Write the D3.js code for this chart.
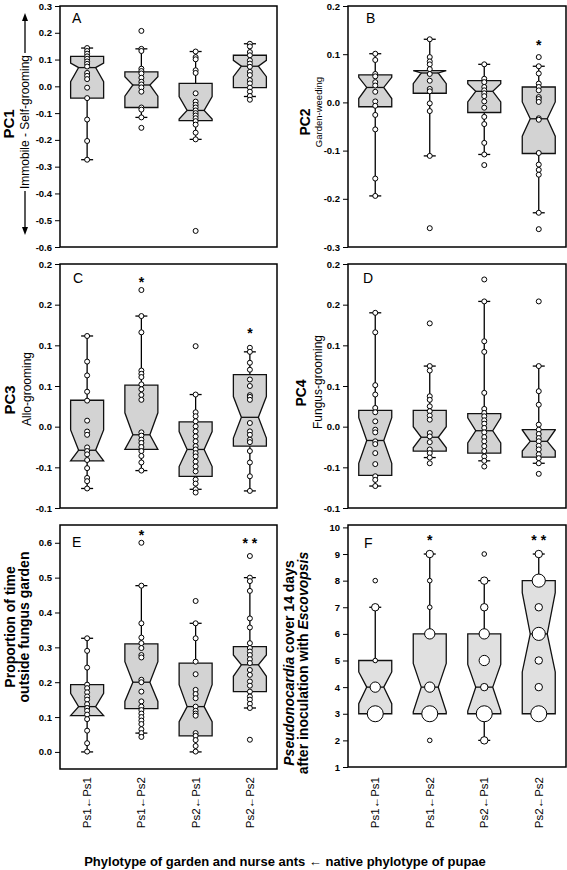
<!DOCTYPE html>
<html><head><meta charset="utf-8">
<script src="https://cdn.jsdelivr.net/npm/d3@7"></script>
<style>
body{margin:0;background:#fff}
svg{display:block}
text{font-family:"Liberation Sans",Arial,Helvetica,sans-serif;fill:#000}
</style>
</head><body>
<svg id="chart" width="567" height="870"></svg>
<script>
// ---------------- DATA ----------------
const categories = ["Ps1\u2190Ps1", "Ps1\u2190Ps2", "Ps2\u2190Ps1", "Ps2\u2190Ps2"];

// Box statistics per group: [q1, median, q3, notchLow, notchHigh, whiskerLow, whiskerHigh]
// Panel A: PC1
const pc1Points = [
  [0.143,0.132,0.122,0.112,0.103,0.093,0.084,0.074,0.05,0.039,0.027,-0.005,-0.044,-0.124,-0.204,-0.274],
  [0.207,0.14,0.132,0.066,0.057,0.048,0.032,0.017,0.007,-0.004,-0.02,-0.079,-0.087,-0.116,-0.155],
  [0.13,0.109,0.101,0.06,0.05,-0.026,-0.057,-0.069,-0.079,-0.09,-0.1,-0.109,-0.119,-0.13,-0.143,-0.173,-0.198,-0.54],
  [0.159,0.149,0.128,0.116,0.097,0.085,0.073,0.054,0.042,0.023,0.011,-0.005,-0.02,-0.036,-0.05]
];
const pc1Box = [
  [-0.044,0.07,0.112,0.017,0.087,-0.274,0.143],
  [-0.079,0.005,0.054,-0.037,0.036,-0.116,0.14],
  [-0.128,-0.09,0.011,-0.122,-0.038,-0.198,0.13],
  [-0.005,0.075,0.116,0.036,0.097,-0.038,0.159]
];
const pc1Ticks = [-0.6,-0.5,-0.4,-0.3,-0.2,-0.1,0,0.1,0.2,0.3];
const pc1TickLabels = ["-0.6","-0.5","-0.4","-0.3","-0.2","-0.1","0.0","0.1","0.2","0.3"];
const pc1Stars = ["","","",""];
const pc1StarAt = [null,null,null,null];

// Panel B: PC2
const pc2Points = [
  [0.101,0.088,0.059,0.054,0.042,0.035,0.022,0.002,-0.007,-0.026,-0.056,-0.158,-0.194],
  [0.131,0.094,0.085,0.079,0.069,0.059,0.045,0.028,0.023,-0.002,-0.018,-0.111,-0.261],
  [0.079,0.049,0.042,0.032,0.025,0.019,0.013,0.002,-0.011,-0.03,-0.045,-0.084,-0.108,-0.13],
  [0.094,0.075,0.06,0.039,0.032,0.025,0.011,0.007,0.001,-0.033,-0.036,-0.105,-0.129,-0.14,-0.15,-0.229,-0.263]
];
const pc2Box = [
  [-0.009,0.031,0.057,0.008,0.052,-0.194,0.101],
  [0.019,0.061,0.066,0.039,0.066,-0.111,0.131],
  [-0.021,0.023,0.045,0.001,0.039,-0.108,0.079],
  [-0.106,-0.034,0.032,-0.07,0.001,-0.229,0.075]
];
const pc2Ticks = [-0.3,-0.2,-0.1,0,0.1,0.2];
const pc2TickLabels = ["-0.3","-0.2","-0.1","0.0","0.1","0.2"];
const pc2Stars = ["","","","*"];
const pc2StarAt = [null,null,null,0.127];

// Panel C: PC3
const pc3Points = [
  [0.1115,0.08,0.063,0.043,0.032,0.0074,-0.006,-0.01,-0.0255,-0.03,-0.034,-0.041,-0.051,-0.063,-0.067,-0.076],
  [0.168,0.136,0.116,0.069,0.065,0.061,0.052,0.046,0.039,0.033,-0.007,-0.011,-0.016,-0.02,-0.025,-0.03,-0.036,-0.044,-0.054],
  [0.099,0.0395,0.0177,0.0128,0.0066,0.0004,-0.0058,-0.012,-0.018,-0.024,-0.028,-0.0325,-0.0366,-0.043,-0.049,-0.055,-0.065,-0.07,-0.077,-0.081],
  [0.097,0.092,0.0786,0.07,0.058,0.05,0.0387,0.0366,0.033,0.0045,-0.0058,-0.01,-0.016,-0.019,-0.03,-0.044,-0.061,-0.079]
];
const pc3Box = [
  [-0.042,-0.029,0.0325,-0.042,-0.004,-0.076,0.1115],
  [-0.028,-0.01,0.051,-0.028,0.017,-0.054,0.136],
  [-0.061,-0.028,0.0058,-0.049,-0.006,-0.077,0.0395],
  [-0.024,0.0115,0.064,-0.014,0.037,-0.079,0.092]
];
const pc3Ticks = [-0.1,-0.05,0,0.05,0.1,0.15,0.2];
const pc3TickLabels = ["-0.1","-0.1","0.0","0.1","0.1","0.2","0.2"];
const pc3Stars = ["","*","","*"];
const pc3StarAt = [null,0.183,null,0.12];

// Panel D: PC4
const pc4Points = [
  [0.14,0.116,0.051,0.0395,0.023,0.0177,0.0066,-0.0037,-0.007,-0.018,-0.0214,-0.0325,-0.046,-0.061,-0.0654,-0.073],
  [0.127,0.0745,0.069,0.0374,0.033,0.025,0.019,0.0136,0.0086,-0.0078,-0.012,-0.019,-0.028,-0.0325,-0.038,-0.045],
  [0.181,0.154,0.105,0.092,0.0416,0.0218,0.0169,0.0128,0.0078,0.0037,-0.0016,-0.007,-0.0128,-0.018,-0.024,-0.03,-0.0366,-0.042,-0.049],
  [0.154,0.0745,0.0436,0.027,0.0025,-0.0037,-0.009,-0.014,-0.018,-0.0235,-0.028,-0.034,-0.0387,-0.045,-0.058]
];
const pc4Box = [
  [-0.06,-0.017,0.02,-0.045,0.011,-0.073,0.14],
  [-0.03,-0.013,0.02,-0.026,0.0,-0.038,0.0745],
  [-0.0325,-0.005,0.016,-0.02,0.011,-0.042,0.154],
  [-0.0375,-0.018,-0.0037,-0.03,-0.004,-0.045,0.0745]
];
const pc4Ticks = pc3Ticks;
const pc4TickLabels = pc3TickLabels;
const pc4Stars = ["","","",""];
const pc4StarAt = [null,null,null,null];

// Panel E: proportion of time outside fungus garden
const timePoints = [
  [0.326,0.29,0.242,0.193,0.183,0.171,0.159,0.15,0.137,0.126,0.118,0.107,0.094,0.061,0.025,0.001],
  [0.6,0.477,0.369,0.328,0.312,0.298,0.278,0.271,0.207,0.2,0.173,0.145,0.13,0.12,0.11,0.1,0.09,0.08,0.065,0.054,0.043],
  [0.433,0.369,0.326,0.259,0.223,0.178,0.166,0.154,0.13,0.118,0.11,0.104,0.054,0.046,0.034,0.017,0.001],
  [0.562,0.5,0.49,0.462,0.383,0.357,0.312,0.298,0.288,0.278,0.266,0.255,0.235,0.221,0.202,0.19,0.173,0.159,0.15,0.138,0.126,0.035]
];
const timeBox = [
  [0.104,0.13,0.193,0.104,0.168,0.0,0.326],
  [0.124,0.2,0.31,0.145,0.259,0.054,0.477],
  [0.046,0.13,0.255,0.087,0.193,0.0,0.369],
  [0.173,0.25,0.302,0.217,0.278,0.126,0.5]
];
const timeTicks = [0,0.1,0.2,0.3,0.4,0.5,0.6];
const timeTickLabels = ["0.0","0.1","0.2","0.3","0.4","0.5","0.6"];
const timeStars = ["","*","","* *"];
const timeStarAt = [null,0.632,null,0.61];

// Panel F: Pseudonocardia cover (value, number of colonies)
const coverPoints = [
  [[3,5],[4,3],[5,1],[7,2],[8,1]],
  [[2,1],[3,5],[4,3],[6,3],[7,1],[8,1],[9,2]],
  [[2,2],[3,5],[4,2],[5,3],[6,3],[7,2],[8,2],[9,1]],
  [[3,5],[4,2],[5,2],[6,4],[7,2],[8,4],[9,2]]
];
const coverBox = [
  [3,4,5,3.38,4.57,3,7],
  [3,4,6,3.07,4.89,3,9],
  [3,4,6,3.1,4.85,2,8],
  [3,6,8,4.57,7.55,3,9]
];
const coverTicks = [1,2,3,4,5,6,7,8,9,10];
const coverTickLabels = ["1","2","3","4","5","6","7","8","9","10"];
const coverStars = ["","*","","* *"];
const coverStarAt = [null,9.65,null,9.65];

// ---------------- DRAWING ----------------
const svg = d3.select("#chart");
const FONT = '"Liberation Sans",Arial,Helvetica,sans-serif';

function drawPanel(o) {
  const g = svg.append("g");
  const x = d3.scaleBand().domain(categories).range([o.x0, o.x1]);
  const y = d3.scaleLinear().domain(o.domain).range([o.y1, o.y0]);
  const hw = 16.5, iw = 8.5, cap = 6;
  const rScale = d3.scaleLinear().domain([1, 5]).range([2.3, 8]);

  categories.forEach((c, i) => {
    const cx = x(c) + x.bandwidth() / 2;
    const [q1, med, q3, nlo, nhi, wlo, whi] = o.box[i];
    if (whi > q3) {
      g.append("line").attr("x1", cx).attr("x2", cx).attr("y1", y(q3)).attr("y2", y(whi))
        .attr("stroke", "#000").attr("stroke-width", 1.3);
      g.append("line").attr("x1", cx - cap).attr("x2", cx + cap).attr("y1", y(whi)).attr("y2", y(whi))
        .attr("stroke", "#000").attr("stroke-width", 1.3);
    }
    if (wlo < q1) {
      g.append("line").attr("x1", cx).attr("x2", cx).attr("y1", y(q1)).attr("y2", y(wlo))
        .attr("stroke", "#000").attr("stroke-width", 1.3);
      g.append("line").attr("x1", cx - cap).attr("x2", cx + cap).attr("y1", y(wlo)).attr("y2", y(wlo))
        .attr("stroke", "#000").attr("stroke-width", 1.3);
    }
    const p = d3.path();
    p.moveTo(cx - hw, y(q3)); p.lineTo(cx + hw, y(q3));
    p.lineTo(cx + hw, y(nhi)); p.lineTo(cx + iw, y(med)); p.lineTo(cx + hw, y(nlo));
    p.lineTo(cx + hw, y(q1)); p.lineTo(cx - hw, y(q1));
    p.lineTo(cx - hw, y(nlo)); p.lineTo(cx - iw, y(med)); p.lineTo(cx - hw, y(nhi));
    p.closePath();
    g.append("path").attr("d", p.toString()).attr("fill", o.fill)
      .attr("stroke", "#111").attr("stroke-width", 1.3).attr("stroke-linejoin", "miter");
    g.append("line").attr("x1", cx - iw).attr("x2", cx + iw).attr("y1", y(med)).attr("y2", y(med))
      .attr("stroke", "#111").attr("stroke-width", 1.3);
    o.points[i].forEach(v => {
      const val = Array.isArray(v) ? v[0] : v;
      const r = Array.isArray(v) ? rScale(v[1]) : 2.5;
      g.append("circle").attr("cx", cx).attr("cy", y(val)).attr("r", r)
        .attr("fill", "#fff").attr("stroke", "#000").attr("stroke-width", 1);
    });
    if (o.stars[i]) {
      g.append("text").attr("x", cx).attr("y", y(o.starAt[i]))
        .attr("dy", "0.62em").attr("text-anchor", "middle")
        .style("font-size", "14px").style("font-weight", "bold").text(o.stars[i]);
    }
  });

  g.append("rect").attr("x", o.x0).attr("y", o.y0).attr("width", o.x1 - o.x0).attr("height", o.y1 - o.y0)
    .attr("fill", "none").attr("stroke", "#000").attr("stroke-width", 1.5);

  const ax = g.append("g").attr("transform", `translate(${o.x0},0)`)
    .call(d3.axisLeft(y).tickValues(o.ticks).tickFormat((d, i) => o.tickLabels[i]).tickSize(5).tickPadding(3));
  ax.select(".domain").remove();
  ax.selectAll(".tick line").attr("stroke", "#000").attr("stroke-width", 1);
  ax.selectAll(".tick text").style("font-family", FONT).style("font-size", "9.5px").style("font-weight", "bold").attr("fill", "#000");

  g.append("text").attr("x", o.x0 + o.letterDx).attr("y", o.y0 + o.letterDy)
    .style("font-size", "14px").text(o.letter);
  return { x, y, g };
}

const L = { x0: 60, x1: 277 }, R = { x0: 348, x1: 566 };

drawPanel({ ...L, y0: 6, y1: 247, domain: [-0.6, 0.3], ticks: pc1Ticks, tickLabels: pc1TickLabels,
  points: pc1Points, box: pc1Box, stars: pc1Stars, starAt: pc1StarAt, fill: "#d3d3d3", letter: "A", letterDx: 12, letterDy: 17 });
drawPanel({ ...R, y0: 6, y1: 247, domain: [-0.3, 0.2], ticks: pc2Ticks, tickLabels: pc2TickLabels,
  points: pc2Points, box: pc2Box, stars: pc2Stars, starAt: pc2StarAt, fill: "#d3d3d3", letter: "B", letterDx: 18, letterDy: 17 });
drawPanel({ ...L, y0: 264, y1: 508, domain: [-0.1, 0.2], ticks: pc3Ticks, tickLabels: pc3TickLabels,
  points: pc3Points, box: pc3Box, stars: pc3Stars, starAt: pc3StarAt, fill: "#d3d3d3", letter: "C", letterDx: 13, letterDy: 19 });
drawPanel({ ...R, y0: 264, y1: 508, domain: [-0.1, 0.2], ticks: pc4Ticks, tickLabels: pc4TickLabels,
  points: pc4Points, box: pc4Box, stars: pc4Stars, starAt: pc4StarAt, fill: "#d3d3d3", letter: "D", letterDx: 15, letterDy: 19 });
const pE = drawPanel({ ...L, y0: 525, y1: 769, domain: [-0.049, 0.651], ticks: timeTicks, tickLabels: timeTickLabels,
  points: timePoints, box: timeBox, stars: timeStars, starAt: timeStarAt, fill: "#d3d3d3", letter: "E", letterDx: 12, letterDy: 22 });
const pF = drawPanel({ ...R, y0: 525, y1: 767, domain: [1, 10.09], ticks: coverTicks, tickLabels: coverTickLabels,
  points: coverPoints, box: coverBox, stars: coverStars, starAt: coverStarAt, fill: "#e0e0e0", letter: "F", letterDx: 16, letterDy: 23 });

[pE, pF].forEach(p => {
  categories.forEach(c => {
    const cx = p.x(c) + p.x.bandwidth() / 2;
    svg.append("text").attr("transform", `translate(${cx},777) rotate(-90)`)
      .attr("text-anchor", "end").attr("dy", "0.35em").style("font-size", "11.5px").text(c);
  });
});

function vText(x, y, str, size, weight) {
  return svg.append("text").attr("transform", `translate(${x},${y}) rotate(-90)`)
    .attr("text-anchor", "middle").attr("dy", "0.35em")
    .style("font-size", size + "px").style("font-weight", weight || "normal").text(str);
}
vText(9, 124, "PC1", 15, "bold");
vText(305, 122, "PC2", 14, "bold");
vText(10, 400, "PC3", 15, "bold");
vText(301, 393, "PC4", 14, "bold");

const sub1 = vText(25, 122, "Immobile - Self-grooming", 12);
const len1 = sub1.node().getComputedTextLength();
const top1 = 122 - len1 / 2 - 2, bot1 = 122 + len1 / 2 + 2;
svg.append("line").attr("x1", 25).attr("x2", 25).attr("y1", 19).attr("y2", top1).attr("stroke", "#000").attr("stroke-width", 1.3);
svg.append("line").attr("x1", 25).attr("x2", 25).attr("y1", bot1).attr("y2", 229).attr("stroke", "#000").attr("stroke-width", 1.3);
svg.append("path").attr("d", "M25,13 L22,21 L28,21 Z").attr("fill", "#000");
svg.append("path").attr("d", "M25,235 L22,227 L28,227 Z").attr("fill", "#000");

vText(319, 112, "Garden-weeding", 9.5);
vText(27, 389, "Allo-grooming", 12);
vText(318, 382, "Fungus-grooming", 12);

vText(10, 627, "Proportion of time", 14, "bold");
vText(24, 627, "outside fungus garden", 14, "bold");

const f1 = svg.append("text").attr("transform", "translate(289,663) rotate(-90)")
  .attr("text-anchor", "middle").attr("dy", "0.35em").style("font-size", "14px").style("font-weight", "bold");
f1.append("tspan").style("font-style", "italic").text("Pseudonocardia");
f1.append("tspan").text(" cover 14 days");
const f2 = svg.append("text").attr("transform", "translate(303,663) rotate(-90)")
  .attr("text-anchor", "middle").attr("dy", "0.35em").style("font-size", "14px").style("font-weight", "bold");
f2.append("tspan").text("after inoculation with ");
f2.append("tspan").style("font-style", "italic").text("Escovopsis");

svg.append("text").attr("x", 285).attr("y", 866).attr("text-anchor", "middle")
  .style("font-size", "13px").style("font-weight", "bold")
  .text("Phylotype of garden and nurse ants \u2190 native phylotype of pupae");
</script>
</body></html>
